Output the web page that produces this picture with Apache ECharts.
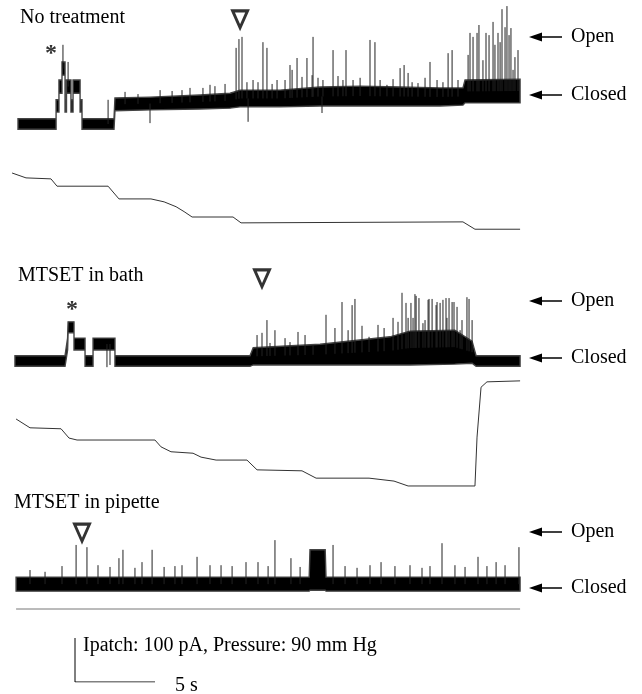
<!DOCTYPE html>
<html><head><meta charset="utf-8">
<script src="https://cdn.jsdelivr.net/npm/echarts/dist/echarts.min.js"></script>
<style>html,body{margin:0;padding:0;background:#fff}#c{width:642px;height:694px}</style>
</head><body><div id="c"></div>
<script>
// ---------- DATA (time in s, current in pA, pressure in mmHg) ----------
// Trace 1: No treatment — current envelope [t, low, high]
var env1 = [
  [0.5,-12,12],[2.88,-12,12],[2.88,27,55],[3.06,27,55],[3.06,70,100],[3.25,70,100],
  [3.25,111,141],[3.44,111,141],[3.44,27,55],[3.53,27,55],[3.53,70,100],[3.81,70,100],
  [3.81,27,55],[3.94,27,55],[3.94,70,100],[4.38,70,100],[4.38,27,55],[4.5,27,55],
  [4.5,-12,12],[6.5,-12,12],[6.56,30,59],[8.75,32,61],[11.88,34,66],[13.75,36,70],
  [14.38,39,77],[16.88,39,77],[19.38,41,84],[21.88,41,86],[24.38,41,84],[26.88,41,82],
  [28.31,43,82],[28.44,48,100],[31.88,48,102]
];
// Trace 1 single-channel spikes [t, peak]
var spk1 = [
  [3.31,180],[3.63,141],[6.13,55],[8.75,2],[10.75,77],[12.06,82],[12.5,89],[14.13,173],
  [14.31,193],[14.5,198],[14.81,95],[14.88,5],[15.19,100],[15.81,186],[16.06,173],
  [16.69,100],[17.5,134],[17.63,123],[17.94,150],[18.25,107],[18.56,150],[18.88,111],
  [18.94,198],[19.5,25],[19.56,100],[20.19,168],[20.5,109],[21.0,168],[21.44,100],
  [22.5,191],[22.81,186],[23.56,89],[24.38,127],[24.63,134],[24.88,116],[25.5,93],
  [26.25,141],[27.06,95],[27.38,161],[27.63,168],[28.63,157],[28.75,207],[28.94,198],
  [29.19,207],[29.31,225],[29.56,145],[29.75,207],[29.94,202],[30.19,232],[30.31,180],
  [30.5,207],[30.63,186],[30.75,261],[30.94,220],[31.06,268],[31.19,202],[31.31,218],
  [31.44,123],[31.56,152],[31.75,168],
  [7.19,73],[8.0,68],[9.38,77],[10.13,75],[11.25,82],[12.81,86],[13.44,91],[15.5,95],
  [16.38,91],[17.19,100],[19.25,105],[20.81,100],[21.88,105],[23.13,100],[23.94,102],
  [25.13,95],[25.94,105],[26.69,100],[28.0,100]
];
// Trace 1 pressure [t, mmHg]
var prs1 = [
  [0.13,0],[1.0,-10],[2.56,-12],[2.94,-27],[6.13,-27],[6.81,-53],[8.81,-53],[9.63,-59],
  [10.38,-69],[10.88,-79],[11.38,-90],[13.94,-90],[14.44,-102],[28.31,-100],[29.06,-115],
  [31.88,-115]
];

// Trace 2: MTSET in bath
var env2 = [
  [0.31,-12,12],[3.44,-12,12],[3.6,25,52],[3.63,64,89],[4.0,64,89],[4.0,25,52],
  [4.69,25,52],[4.69,-12,12],[5.19,-12,12],[5.19,25,52],[6.56,25,52],[6.56,-12,12],
  [15.0,-12,12],[15.2,-9,30],[19.38,-9,38],[23.75,-9,55],[25.0,-9,68],[27.8,-7,70],
  [28.88,-5,45],[29.13,-12,12],[31.88,-12,12]
];
var spk2 = [
  [6.06,-14],[6.25,-9],[15.44,59],[16.06,93],[16.25,41],[17.19,52],[17.5,43],[18.94,36],
  [19.75,105],[20.75,134],[21.38,127],[21.56,141],[22.44,55],[23.94,98],[24.5,155],
  [24.75,132],[24.88,98],[25.06,132],[25.31,152],[25.38,148],[25.56,143],[25.81,86],
  [26.13,139],[26.19,141],[26.38,141],[26.63,127],[26.69,134],[26.88,132],[27.06,139],
  [27.25,143],[27.44,143],[27.63,134],[27.75,134],[27.94,123],[28.13,70],[28.56,145],
  [28.69,141],[28.88,93],
  [15.75,64],[16.56,70],[18.0,66],[18.44,59],[20.31,75],[21.13,70],[22.0,80],[23.0,82],
  [23.38,75],[24.25,89],[25.19,98],[25.94,93],[27.31,98],[28.25,93]
];
var prs2 = [
  [0.38,0],[1.25,-18],[3.19,-20],[3.69,-39],[4.19,-43],[9.06,-43],[9.44,-57],[10.06,-67],
  [11.44,-70],[11.94,-78],[12.88,-84],[14.81,-84],[15.44,-104],[18.25,-106],[19.13,-121],
  [22.44,-121],[24.0,-127],[24.88,-137],[29.06,-137],[29.19,-37],[29.44,65],[29.81,76],
  [31.88,78]
];

// Trace 3: MTSET in pipette
var env3 = [
  [0.38,-14,18],[18.7,-14,18],[18.75,-12,80],[19.7,-12,80],[19.75,-14,18],[31.88,-14,18]
];
var spk3 = [
  [1.25,34],[2.19,30],[3.25,43],[4.13,91],[4.81,86],[5.5,45],[6.25,41],[6.81,61],[7.06,80],
  [7.81,39],[8.25,52],[8.88,80],[9.63,41],[10.31,43],[10.75,45],[11.69,64],[12.5,45],
  [13.19,45],[13.88,43],[14.75,52],[15.5,52],[16.13,43],[16.56,102],[17.56,61],[18.13,41],
  [20.19,91],[20.94,43],[21.69,39],[22.5,45],[23.19,52],[24.06,43],[25.0,45],[25.75,39],
  [26.25,43],[27.0,95],[27.81,45],[28.44,41],[29.25,64],[29.81,43],[30.38,52],[30.94,45],
  [31.81,86]
];
var prs3 = [[0.38,0],[31.88,0]];

// Event markers: [t, value] (open triangles = MTSET effect, asterisks = multi-channel burst)
var tri1 = [[14.38,238]], tri2 = [[15.75,188]], tri3 = [[4.5,119]];
var ast1 = [[2.56,174]], ast2 = [[3.88,130]];
// Scale bar: 5 s horizontal, 100 pA vertical
var scaleBar = [[0,100],[0,0],[5,0]];
var scaleText = 'Ipatch: 100 pA, Pressure: 90 mm Hg';
var titles = ['No treatment','MTSET in bath','MTSET in pipette'];

// ---------- LAYOUT ----------
var X0 = 10, PX_S = 16, T_MAX = 32;
var PX_PA = 0.44, PX_MM = 44 / 90;
// [top, height, baselinePx, pxPerUnit]
var grids = [
  [0,140,124,PX_PA],[160,80,173,PX_MM],
  [255,125,361,PX_PA],[370,125,419,PX_MM],
  [505,95,585,PX_PA],[598,22,609,PX_MM]
];
var SERIF = '"Liberation Serif","Times New Roman",serif';

var gridOpt = [], xAx = [], yAx = [];
grids.forEach(function (g, i) {
  gridOpt.push({left: X0, top: g[0], width: T_MAX * PX_S, height: g[1]});
  xAx.push({type:'value', gridIndex:i, min:0, max:T_MAX, show:false});
  yAx.push({type:'value', gridIndex:i, show:false,
    min: -(g[0] + g[1] - g[2]) / g[3], max: (g[2] - g[0]) / g[3]});
});
gridOpt.push({left:75, top:638, width:5*PX_S, height:100*PX_PA});
xAx.push({type:'value', gridIndex:6, min:0, max:5, show:false});
yAx.push({type:'value', gridIndex:6, min:0, max:100, show:false});

function midAt(env, t) {
  for (var i = 0; i < env.length - 1; i++) {
    var a = env[i], b = env[i+1];
    if (t >= a[0] && t <= b[0]) {
      var f = b[0] === a[0] ? 0 : (t - a[0]) / (b[0] - a[0]);
      return ((a[1]+a[2])/2) * (1-f) + ((b[1]+b[2])/2) * f;
    }
  }
  var l = env[env.length-1]; return (l[1]+l[2])/2;
}
function band(env, gi) {
  return {type:'custom', xAxisIndex:gi, yAxisIndex:gi, silent:true, data:[[env[0][0], env[0][1]]],
    renderItem: function (p, api) {
      var top = env.map(function (r) { return api.coord([r[0], r[2]]); });
      var bot = env.slice().reverse().map(function (r) { return api.coord([r[0], r[1]]); });
      return {type:'polygon', shape:{points: top.concat(bot)}, style:{fill:'#000', stroke:'#444', lineWidth:1.4}};
    }};
}
function spikes(spk, env, gi) {
  return {type:'custom', xAxisIndex:gi, yAxisIndex:gi, silent:true, data:spk,
    renderItem: function (p, api) {
      var t = api.value(0), v = api.value(1);
      var a = api.coord([t, midAt(env, t)]), b = api.coord([t, v]);
      return {type:'line', shape:{x1:a[0], y1:a[1], x2:b[0], y2:b[1]}, style:{stroke:'#222', lineWidth:1}};
    }};
}
function pressure(d, gi, col) {
  return {type:'line', xAxisIndex:gi, yAxisIndex:gi, data:d, showSymbol:false, silent:true,
    lineStyle:{color:col, width:1}};
}
function triangles(d, gi) {
  return {type:'scatter', xAxisIndex:gi, yAxisIndex:gi, data:d, silent:true, symbol:'triangle',
    symbolRotate:180, symbolSize:[15,17], itemStyle:{color:'rgba(0,0,0,0)', borderColor:'#000', borderWidth:3}};
}
function asterisk(d, gi) {
  return {type:'scatter', xAxisIndex:gi, yAxisIndex:gi, data:d, silent:true, symbolSize:1,
    itemStyle:{color:'rgba(0,0,0,0)'},
    label:{show:true, position:'inside', formatter:'*', offset:[0,6], fontSize:24, fontWeight:'bold',
      fontFamily:SERIF, color:'#000'}};
}

var series = [
  band(env1,0), spikes(spk1,env1,0), pressure(prs1,1,'#333'),
  band(env2,2), spikes(spk2,env2,2), pressure(prs2,3,'#333'),
  band(env3,4), spikes(spk3,env3,4), pressure(prs3,5,'#777'),
  triangles(tri1,0), triangles(tri2,2), triangles(tri3,4),
  asterisk(ast1,0), asterisk(ast2,2),
  {type:'line', xAxisIndex:6, yAxisIndex:6, data:scaleBar, showSymbol:false, silent:true,
   lineStyle:{color:'#000', width:1}}
];

function txt(x, y, s) {
  return {type:'text', x:x, y:y, silent:true,
    style:{text:s, font:'20px ' + SERIF, fill:'#000', textVerticalAlign:'middle', verticalAlign:'middle'}};
}
function arrow(y, word) {
  return [
    {type:'line', silent:true, shape:{x1:538, y1:y, x2:562, y2:y}, style:{stroke:'#000', lineWidth:1.5}},
    {type:'polygon', silent:true, shape:{points:[[529,y],[542,y-4.5],[542,y+4.5]]}, style:{fill:'#000'}},
    txt(571, y, word)
  ];
}
var graphic = [txt(20,18,titles[0]), txt(18,276,titles[1]), txt(14,503,titles[2]),
  txt(83,646,scaleText), txt(175,686,'5 s')]
  .concat(arrow(37,'Open'), arrow(95,'Closed'), arrow(301,'Open'), arrow(358,'Closed'),
          arrow(532,'Open'), arrow(588,'Closed'));

var chart = echarts.init(document.getElementById('c'), null, {renderer:'canvas'});
chart.setOption({animation:false, backgroundColor:'#fff', grid:gridOpt, xAxis:xAx, yAxis:yAx,
  series:series, graphic:graphic});
</script></body></html>
